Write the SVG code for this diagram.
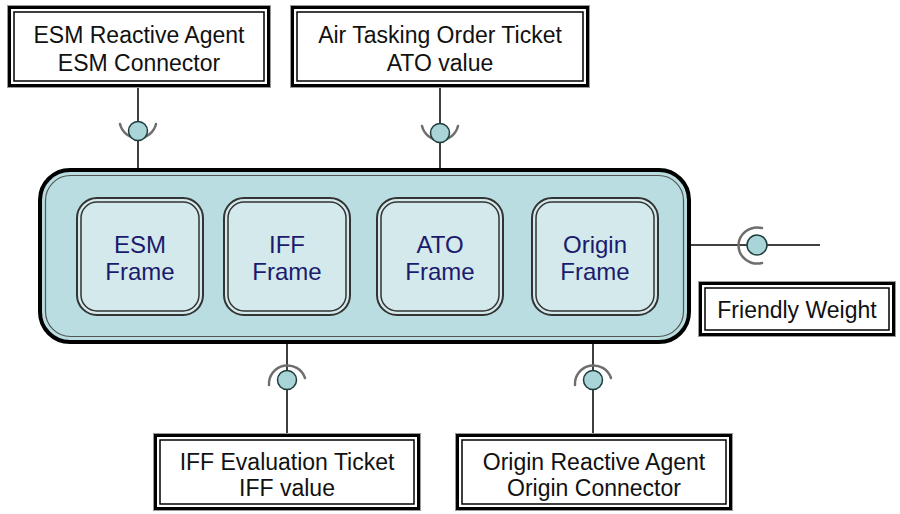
<svg xmlns="http://www.w3.org/2000/svg" width="900" height="514" viewBox="0 0 900 514">
<style>
  .lbl { font-family: "Liberation Sans", Arial, sans-serif; font-size: 23px; fill: #111; text-anchor: middle; }
  .fl { font-family: "Liberation Sans", Arial, sans-serif; font-size: 24px; fill: #1B1B6E; text-anchor: middle; }
  .b0 { fill: none; stroke: #999; stroke-width: 1; }
  .b1 { fill: #fff; stroke: #000; stroke-width: 3; }
  .b2 { fill: none; stroke: #000; stroke-width: 1.5; }
  .fo { fill: #D3E9EB; stroke: #333; stroke-width: 2; }
  .fi { fill: none; stroke: #333; stroke-width: 1.5; }
  .wire { stroke: #000; stroke-width: 1.5; fill: none; }
  .ball { fill: #A9D5D9; stroke: #1f3c3c; stroke-width: 1.5; }
  .sock { fill: none; stroke: #6e6e6e; stroke-width: 2.5; stroke-linecap: round; }
</style>
<rect width="900" height="514" fill="#fff"/>

<g id="connectors">
  <line class="wire" x1="138" y1="88" x2="138" y2="199"/>
  <line class="wire" x1="440" y1="88" x2="440" y2="199"/>
  <line class="wire" x1="287" y1="314" x2="287" y2="433"/>
  <line class="wire" x1="593" y1="314" x2="593" y2="433"/>
  <line class="wire" x1="690" y1="245" x2="820" y2="245"/>
  <path class="sock" d="M120,124 A18.5 18.5 0 0 0 156,124"/>
  <circle class="ball" cx="138" cy="131" r="9.5"/>
  <path class="sock" d="M422,126 A18.5 18.5 0 0 0 458,126"/>
  <circle class="ball" cx="440" cy="133" r="9.5"/>
  <path class="sock" d="M269,385 A18.5 18.5 0 0 1 305,378"/>
  <circle class="ball" cx="287" cy="380" r="9.5"/>
  <path class="sock" d="M575,385 A18.5 18.5 0 0 1 611,378"/>
  <circle class="ball" cx="593" cy="380" r="9.5"/>
  <path class="sock" d="M762,228 A19 18 0 1 0 762,263"/>
  <circle class="ball" cx="757" cy="245" r="10"/>
</g>

<g id="container">
  <rect x="40" y="170" width="649" height="172" rx="30" fill="#B9DDE0" stroke="#000" stroke-width="4"/>
  <rect x="45.5" y="175.5" width="638" height="161" rx="25" fill="none" stroke="#555" stroke-width="1.2"/>
</g>

<g id="esm-frame">
  <rect class="fo" x="77" y="198" width="126" height="117" rx="20"/>
  <rect class="fi" x="81" y="202" width="118" height="109" rx="16"/>
  <text class="fl" x="140" y="253">ESM</text>
  <text class="fl" x="140" y="280">Frame</text>
</g>
<g id="iff-frame">
  <rect class="fo" x="224" y="198" width="126" height="117" rx="20"/>
  <rect class="fi" x="228" y="202" width="118" height="109" rx="16"/>
  <text class="fl" x="287" y="253">IFF</text>
  <text class="fl" x="287" y="280">Frame</text>
</g>
<g id="ato-frame">
  <rect class="fo" x="377" y="198" width="126" height="117" rx="20"/>
  <rect class="fi" x="381" y="202" width="118" height="109" rx="16"/>
  <text class="fl" x="440" y="253">ATO</text>
  <text class="fl" x="440" y="280">Frame</text>
</g>
<g id="origin-frame">
  <rect class="fo" x="532" y="198" width="126" height="117" rx="20"/>
  <rect class="fi" x="536" y="202" width="118" height="109" rx="16"/>
  <text class="fl" x="595" y="253">Origin</text>
  <text class="fl" x="595" y="280">Frame</text>
</g>

<g id="esm-agent">
  <rect class="b0" x="7.5" y="5.5" width="263" height="82"/>
  <rect class="b1" x="9.5" y="7.5" width="259" height="78"/>
  <rect class="b2" x="14" y="12" width="250" height="69"/>
  <text class="lbl" x="139" y="43">ESM Reactive Agent</text>
  <text class="lbl" x="139" y="71">ESM Connector</text>
</g>
<g id="ato-ticket">
  <rect class="b0" x="290.5" y="5.5" width="299" height="82"/>
  <rect class="b1" x="292.5" y="7.5" width="295" height="78"/>
  <rect class="b2" x="297" y="12" width="286" height="69"/>
  <text class="lbl" x="440" y="43">Air Tasking Order Ticket</text>
  <text class="lbl" x="440" y="71">ATO value</text>
</g>
<g id="iff-ticket">
  <rect class="b0" x="153.5" y="433.5" width="267" height="77"/>
  <rect class="b1" x="155.5" y="435.5" width="263" height="73"/>
  <rect class="b2" x="160" y="440" width="254" height="64"/>
  <text class="lbl" x="287" y="470">IFF Evaluation Ticket</text>
  <text class="lbl" x="287" y="496">IFF value</text>
</g>
<g id="origin-agent">
  <rect class="b0" x="455.5" y="433.5" width="277" height="77"/>
  <rect class="b1" x="457.5" y="435.5" width="273" height="73"/>
  <rect class="b2" x="462" y="440" width="264" height="64"/>
  <text class="lbl" x="594" y="470">Origin Reactive Agent</text>
  <text class="lbl" x="594" y="496">Origin Connector</text>
</g>
<g id="friendly-weight">
  <rect class="b0" x="698.5" y="281.5" width="197" height="55"/>
  <rect class="b1" x="700.5" y="283.5" width="193" height="51"/>
  <rect class="b2" x="705" y="288" width="184" height="42"/>
  <text class="lbl" x="797" y="318">Friendly Weight</text>
</g>
</svg>
